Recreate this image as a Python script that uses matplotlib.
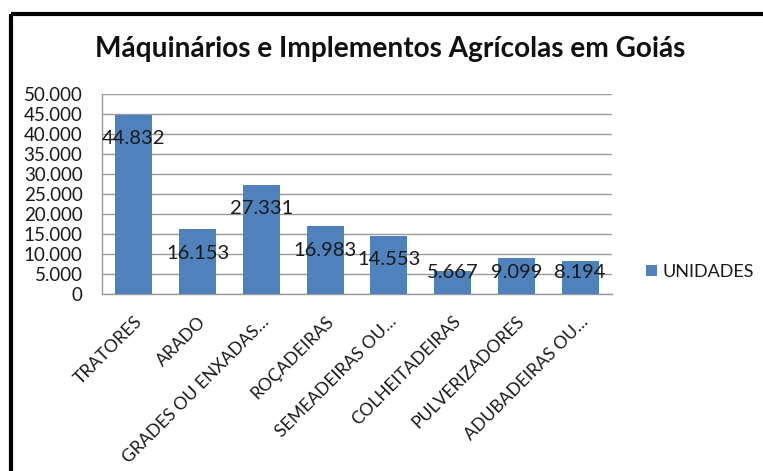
#!/usr/bin/env python3
"""Bar chart: agricultural machinery and implements in Goiás."""

import matplotlib

matplotlib.use("Agg")
import matplotlib.pyplot as plt
from matplotlib.lines import Line2D
from matplotlib.patches import Patch
from matplotlib.ticker import FuncFormatter, MultipleLocator

TITLE = "Máquinários e Implementos Agrícolas em Goiás"
SERIES_NAME = "UNIDADES"
categories = [
    "TRATORES",
    "ARADO",
    "GRADES OU ENXADAS…",
    "ROÇADEIRAS",
    "SEMEADEIRAS OU…",
    "COLHEITADEIRAS",
    "PULVERIZADORES",
    "ADUBADEIRAS OU…",
]
unidades = [44832, 16153, 27331, 16983, 14553, 5667, 9099, 8194]

BAR_COLOR = "#4F81BD"
GRID_COLOR = "#9a9a9a"
FONT = ["Lato", "DejaVu Sans"]

W, H = 763, 471


def fmt_thousands(value: float, _pos=None) -> str:
    return f"{int(round(value)):,}".replace(",", ".")


def main() -> None:
    plt.rcParams["font.family"] = FONT
    fig = plt.figure(figsize=(W / 100, H / 100), dpi=100)
    fig.patch.set_facecolor("white")

    # plot area in pixel terms of the reference
    ax = fig.add_axes([102 / W, 1 - 294 / H, (612 - 102) / W, (294 - 94) / H])
    xs = list(range(len(categories)))
    ax.bar(xs, unidades, width=0.58, color=BAR_COLOR, zorder=3)

    ax.set_xlim(-0.5, len(categories) - 0.5)
    ax.set_ylim(0, 50000)
    ax.yaxis.set_major_locator(MultipleLocator(5000))
    ax.yaxis.set_major_formatter(FuncFormatter(fmt_thousands))
    ax.grid(axis="y", color=GRID_COLOR, linewidth=1.0, zorder=0)
    for side in ("top", "right"):
        ax.spines[side].set_visible(False)
    for side in ("left", "bottom"):
        ax.spines[side].set_color(GRID_COLOR)
        ax.spines[side].set_linewidth(1.0)
    ax.tick_params(axis="y", length=0, pad=14, labelsize=13.5, labelcolor="#1a1a1a")
    ax.tick_params(axis="x", length=0, pad=14, labelsize=12.6, labelcolor="#1a1a1a")
    ax.set_xticks(xs)
    ax.set_xticklabels(categories, rotation=45, ha="right", rotation_mode="anchor")

    # data labels sit a bit below the bar top, never lower than a floor
    for x, v in zip(xs, unidades):
        ax.text(x, max(v - 6000, 5500), fmt_thousands(v), ha="center", va="center",
                fontsize=14.5, color="#1a1a1a", zorder=4)

    ax.legend(
        handles=[Patch(facecolor=BAR_COLOR, label=SERIES_NAME)],
        loc="center left",
        bbox_to_anchor=(646 / W, 1 - 272 / H),
        bbox_transform=fig.transFigure,
        frameon=False,
        fontsize=13,
        handlelength=0.6,
        handleheight=0.6,
        handletextpad=0.3,
        borderpad=0,
        borderaxespad=0,
        labelcolor="#1a1a1a",
    )

    fig.text(390 / W, 1 - 57 / H, TITLE, ha="center", va="baseline",
             fontsize=20.2, fontweight="bold", color="#111111")

    # black frame on top and left, as in the screenshot
    top_y = 1 - 14 / H
    left_x = 10.5 / W
    fig.add_artist(Line2D([left_x, 1], [top_y, top_y], transform=fig.transFigure,
                          color="black", linewidth=3.0, solid_capstyle="butt"))
    fig.add_artist(Line2D([left_x, left_x], [0, top_y], transform=fig.transFigure,
                          color="black", linewidth=3.0, solid_capstyle="butt"))

    fig.savefig("out.png", dpi=100)
    plt.close(fig)


if __name__ == "__main__":
    main()
